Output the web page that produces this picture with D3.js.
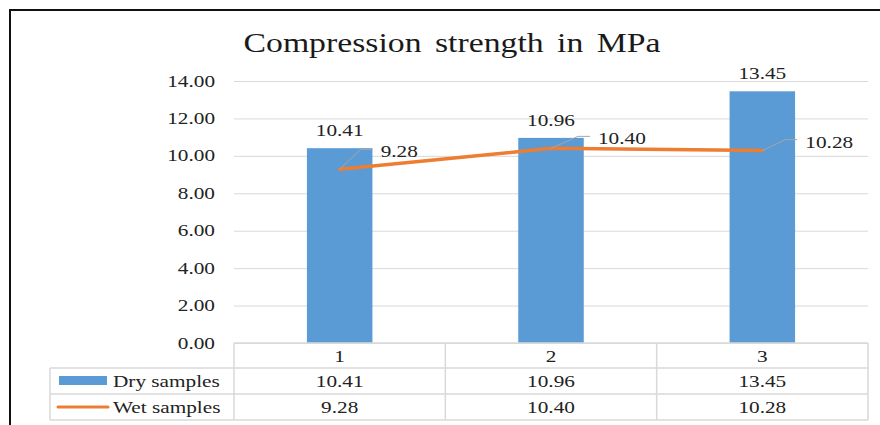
<!DOCTYPE html>
<html>
<head>
<meta charset="utf-8">
<script src="https://cdn.jsdelivr.net/npm/d3@7"></script>
<style>
  html, body { margin: 0; padding: 0; background: #fff; }
  svg { display: block; }
</style>
</head>
<body>
<div id="vis"></div>
<script>
// Data
const categories = ["1", "2", "3"];
const drySamples = [10.41, 10.96, 13.45];
const wetSamples = [9.28, 10.40, 10.28];
const yTicks = [0, 2, 4, 6, 8, 10, 12, 14];
const seriesNames = ["Dry samples", "Wet samples"];

// Layout
const width = 880;
const height = 425;
const plot = { left: 234, right: 868, top: 81, bottom: 343 };
const rowH = [25, 26, 26];
const legendLeft = 50;
const stretch = 1.25; // picture text is drawn wider than normal
const font = "'Liberation Serif', 'Times New Roman', serif";
const textColor = "#222";
const gridColor = "#d9d9d9";
const barColor = "#5B9BD5";
const lineColor = "#ED7D31";

// offsets of the wet-sample label elbows from their points
const leaderOffsets = [[21, -20], [27, -12], [23, -11]];

const svg = d3.select("#vis")
  .append("svg")
  .attr("width", width)
  .attr("height", height);

function addText(x, y, str, size, anchor, fill) {
  return svg.append("text")
    .attr("transform", `translate(${x},${y}) scale(${stretch},1)`)
    .attr("font-family", font)
    .attr("font-size", size + "px")
    .attr("text-anchor", anchor || "start")
    .attr("fill", fill || textColor)
    .text(str);
}

// Outer frame
svg.append("rect")
  .attr("x", 10)
  .attr("y", 10)
  .attr("width", width + 20)
  .attr("height", height + 20)
  .attr("fill", "none")
  .attr("stroke", "#111")
  .attr("stroke-width", 2);

// Scales
const x = d3.scaleBand()
  .domain(categories)
  .range([plot.left, plot.right])
  .padding(0);

const y = d3.scaleLinear()
  .domain([0, 14])
  .range([plot.bottom, plot.top]);

const barW = x.bandwidth() * 0.31;

// Title
addText(452, 52, "Compression strength in MPa", 27, "middle", "#1a1a1a")
  .attr("word-spacing", "4px");

// Grid + y axis
const yAxis = svg.append("g")
  .attr("transform", `translate(${plot.left},0)`)
  .call(d3.axisLeft(y).tickValues(yTicks).tickSize(-(plot.right - plot.left)).tickFormat(""));
yAxis.select(".domain").remove();
yAxis.selectAll(".tick line").attr("stroke", gridColor).attr("stroke-width", 1);

yTicks.forEach(t => {
  addText(215, y(t) + 5.5, d3.format(".2f")(t), 17, "end");
});

// Bars
svg.selectAll(".bar")
  .data(drySamples)
  .join("rect")
  .attr("class", "bar")
  .attr("x", (d, i) => x(categories[i]) + x.bandwidth() / 2 - barW / 2)
  .attr("y", d => y(d))
  .attr("width", barW)
  .attr("height", d => y(0) - y(d))
  .attr("fill", barColor);

// Bar labels
drySamples.forEach((d, i) => {
  addText(x(categories[i]) + x.bandwidth() / 2, y(d) - 12, d.toFixed(2), 17, "middle");
});

// Wet line
const line = d3.line()
  .x((d, i) => x(categories[i]) + x.bandwidth() / 2)
  .y(d => y(d));

svg.append("path")
  .datum(wetSamples)
  .attr("d", line)
  .attr("fill", "none")
  .attr("stroke", lineColor)
  .attr("stroke-width", 3.5)
  .attr("stroke-linecap", "round");

// Wet labels with leader lines
wetSamples.forEach((d, i) => {
  const px = x(categories[i]) + x.bandwidth() / 2;
  const py = y(d);
  const ex = px + leaderOffsets[i][0];
  const ey = py + leaderOffsets[i][1];
  svg.append("polyline")
    .attr("points", `${px},${py} ${ex},${ey} ${ex + 12},${ey}`)
    .attr("fill", "none")
    .attr("stroke", "#a6a6a6")
    .attr("stroke-width", 1);
  addText(ex + 20, ey + 8, d.toFixed(2), 17, "start");
});

// Data table
const tTop = plot.bottom;
const r1 = tTop + rowH[0];
const r2 = r1 + rowH[1];
const r3 = r2 + rowH[2];
const tbl = svg.append("g")
  .attr("stroke", gridColor)
  .attr("stroke-width", 1.5)
  .attr("fill", "none");

tbl.append("line").attr("x1", plot.left).attr("x2", plot.right).attr("y1", tTop).attr("y2", tTop);
[r1, r2, r3].forEach(ry => {
  tbl.append("line").attr("x1", legendLeft).attr("x2", plot.right).attr("y1", ry).attr("y2", ry);
});
tbl.append("line").attr("x1", legendLeft).attr("x2", legendLeft).attr("y1", r1).attr("y2", r3);
categories.forEach(c => {
  tbl.append("line").attr("x1", x(c)).attr("x2", x(c)).attr("y1", tTop).attr("y2", r3);
});
tbl.append("line").attr("x1", plot.right).attr("x2", plot.right).attr("y1", tTop).attr("y2", r3);

categories.forEach((c, i) => {
  const cx = x(c) + x.bandwidth() / 2;
  addText(cx, tTop + 19, c, 17, "middle");
  addText(cx, r1 + 19, drySamples[i].toFixed(2), 17, "middle");
  addText(cx, r2 + 19, wetSamples[i].toFixed(2), 17, "middle");
});

// Legend keys in the table
svg.append("rect")
  .attr("x", 59)
  .attr("y", r1 + 8)
  .attr("width", 48)
  .attr("height", 9)
  .attr("fill", barColor);
addText(113, r1 + 19, seriesNames[0], 17, "start");

svg.append("line")
  .attr("x1", 58)
  .attr("x2", 108)
  .attr("y1", r2 + 13)
  .attr("y2", r2 + 13)
  .attr("stroke", lineColor)
  .attr("stroke-width", 3)
  .attr("stroke-linecap", "round");
addText(113, r2 + 19, seriesNames[1], 17, "start");
</script>
</body>
</html>
